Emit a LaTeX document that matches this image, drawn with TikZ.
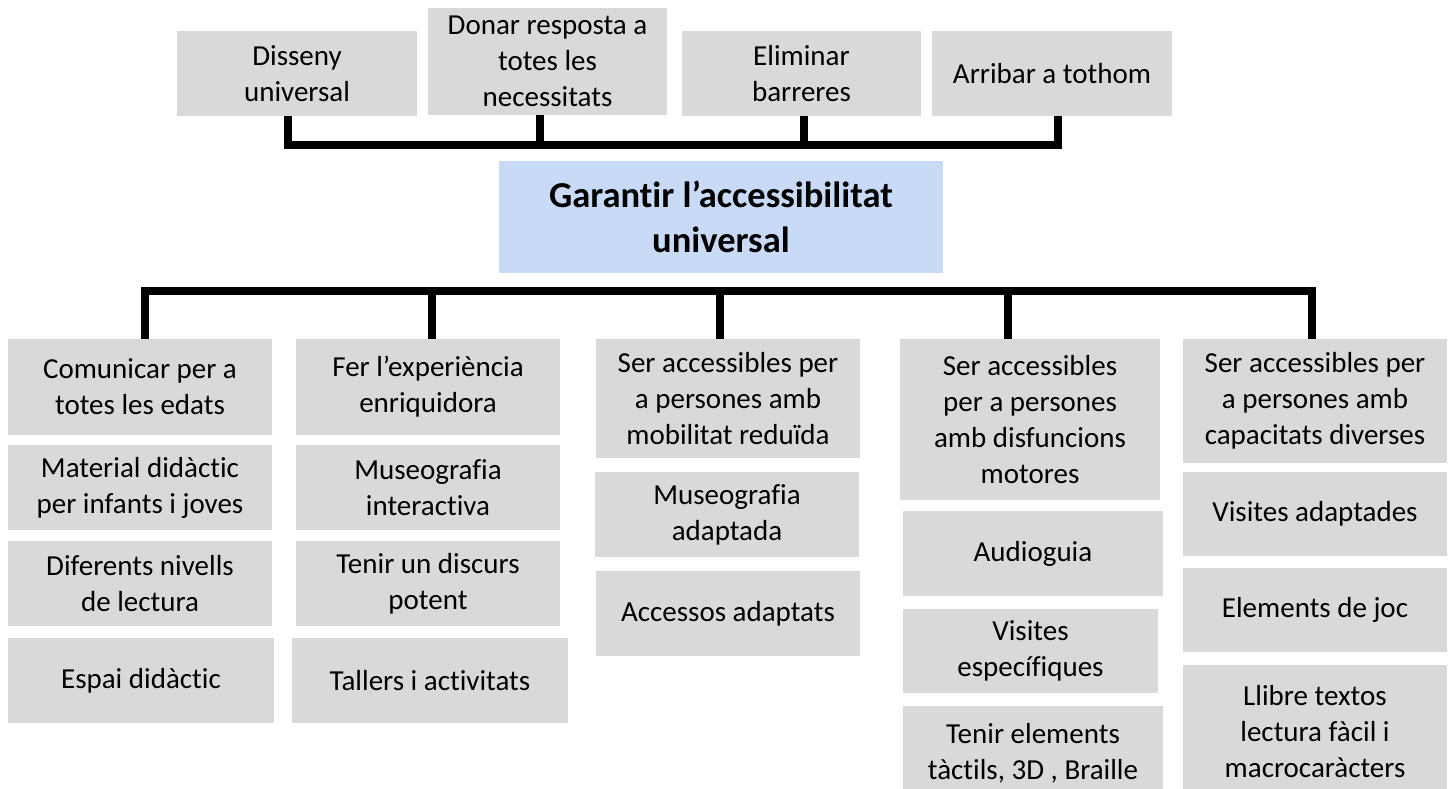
\documentclass[tikz,border=0pt]{standalone}
\usepackage{fontspec}
\setmainfont{Carlito}[Ligatures=NoCommon, RawFeature={-calt;-clig}]
\definecolor{boxgray}{RGB}{217,217,217}
\definecolor{titleblue}{RGB}{200,218,246}
\tikzset{
    box/.style={rectangle, fill=boxgray, inner sep=0pt, align=center,
    	font=\fontsize{29}{36}\selectfont}
}
\tikzset{
    title/.style={box, fill=titleblue, font=\fontsize{36.5}{45}\selectfont\bfseries}
}
\tikzset{
	bar/.style={line width=8pt, line join=miter}
}

\begin{document}
\begin{tikzpicture}[x=1pt,y=-1pt]
	\useasboundingbox (0,0) rectangle (1454,789);
	\clip (0,0) rectangle (1454,789);

	\node (dis) [box, minimum width=240, minimum height=85] at (297,73.5) {Disseny\\universal};
	\node (don) [box, minimum width=239, minimum height=107] at (547.5,61.5) {Donar resposta a\\totes les\\necessitats};
	\node (eli) [box, minimum width=239, minimum height=85] at (801.5,73.5) {Eliminar\\barreres};
	\node (arr) [box, minimum width=240, minimum height=85] at (1052,73.5) {Arribar a tothom};

	\node (gar) [title, minimum width=444, minimum height=112] at (721,217) {Garantir l’accessibilitat\\universal};

	\node (com) [box, minimum width=264, minimum height=96] at (140,387) {Comunicar per a\\totes les edats};
	\node (mat) [box, minimum width=264, minimum height=85] at (140,487.5) {Material didàctic\\per infants i joves};
	\node (dif) [box, minimum width=264, minimum height=85] at (140,583.5) {Diferents nivells\\de lectura};
	\node (esp) [box, minimum width=266, minimum height=85] at (141,680.5) {Espai didàctic};

	\node (fer) [box, minimum width=264, minimum height=96] at (428,387) {Fer l’experiència\\enriquidora};
	\node (mus) [box, minimum width=264, minimum height=85] at (428,487.5) {Museografia\\interactiva};
	\node (ten) [box, minimum width=264, minimum height=85] at (428,583.5) {Tenir un discurs\\potent};
	\node (tal) [box, minimum width=276, minimum height=85] at (430,680.5) {Tallers i activitats};

	\node (mob) [box, minimum width=264, minimum height=119] at (728,398.5) {Ser accessibles per\\a persones amb\\mobilitat reduïda};
	\node (mad) [box, minimum width=264, minimum height=85] at (727,514.5) {Museografia\\adaptada};
	\node (acc) [box, minimum width=264, minimum height=85] at (728,613.5) {Accessos adaptats};

	\node (dfm) [box, minimum width=260, minimum height=161] at (1030,419.5) {Ser accessibles\\per a persones\\amb disfuncions\\motores};
	\node (aud) [box, minimum width=260, minimum height=85] at (1033,553.5) {Audioguia};
	\node (vis) [box, minimum width=255, minimum height=84] at (1030.5,651) {Visites\\específiques};
	\node (tac) [box, minimum width=260, minimum height=94] at (1033,753) {Tenir elements\\tàctils, 3D , Braille};

	\node (cap) [box, minimum width=264, minimum height=124] at (1315,401) {Ser accessibles per\\a persones amb\\capacitats diverses};
	\node (vad) [box, minimum width=264, minimum height=84] at (1315,514) {Visites adaptades};
	\node (joc) [box, minimum width=264, minimum height=84] at (1315,610) {Elements de joc};
	\node (lli) [box, minimum width=264, minimum height=134] at (1315,732) {Llibre textos\\lectura fàcil i\\macrocaràcters};

	\coordinate (t1) at (288,145); \coordinate (t2) at (540,145);
	\coordinate (t3) at (804,145); \coordinate (t4) at (1058,145);
	\coordinate (b1) at (145,291); \coordinate (b2) at (432,291);
	\coordinate (b3) at (720,291); \coordinate (b4) at (1008,291);
	\coordinate (b5) at (1312,291);

	\draw[bar] (t1 |- dis.south) -- (t1) -- (t4) -- (t4 |- arr.south);
	\draw[bar] (t2) -- (t2 |- don.south); \draw[bar] (t3) -- (t3 |- eli.south);
	\draw[bar] (b1 |- com.north) -- (b1) -- (b5) -- (b5 |- cap.north);
	\draw[bar] (b2) -- (b2 |- fer.north); \draw[bar] (b3) -- (b3 |- mob.north);
	\draw[bar] (b4) -- (b4 |- dfm.north);
\end{tikzpicture}
\end{document}
